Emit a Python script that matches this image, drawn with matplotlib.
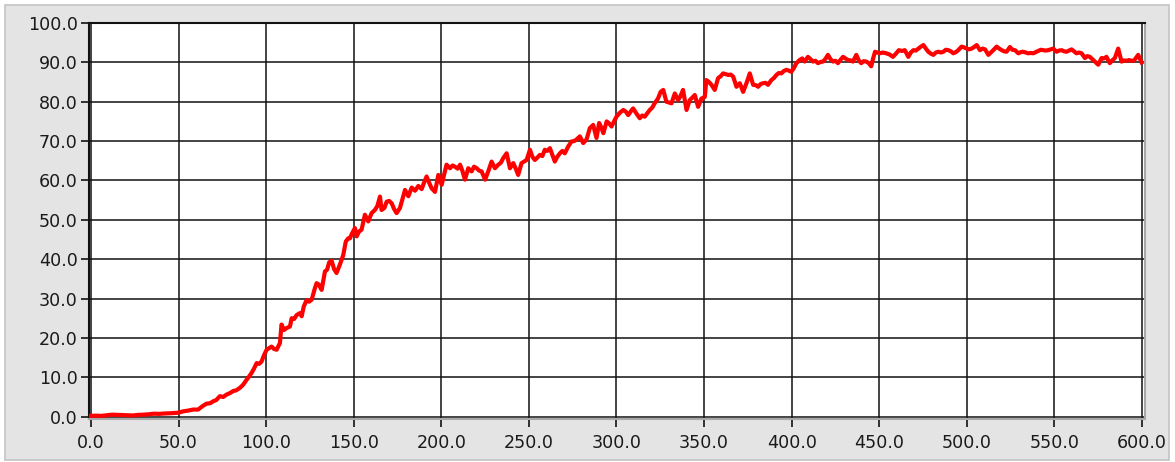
import matplotlib
matplotlib.use("Agg")
import matplotlib.pyplot as plt
from matplotlib.patches import Rectangle

# samples (time, value)
x_vals = [
    0, 3, 6, 9, 12, 15, 18, 21, 24, 27, 30, 33, 36, 39, 42, 45, 48, 50,
    52.7, 55, 58.4, 61.2, 63.5, 66, 68, 69.8, 71.5, 73.6, 75.5, 77.4, 79.4, 81.2, 83, 85, 86.9, 88.9,
    90.3, 91.7, 93.2, 94.6, 96, 97.4, 98.8, 100.3,
    101.7, 103.1, 104.5, 106, 107.9, 108.8, 110.2, 111.7, 113.6, 114.6, 116, 117.4, 119.3, 120.3,
    121.5, 123.1, 124.5, 126, 127.9, 128.8, 130, 131.7, 133.6, 134.8, 136, 137.4, 138.8, 140.2,
    142, 144, 145.5, 146.9, 147.9, 149, 150.7,
    151.7, 153, 154.5, 156.4, 158.3, 160.2, 162.1, 163.5, 165, 165.9, 167.5, 168.8, 170.2, 171.7,
    173, 174.5, 176.4, 178, 179.3, 181.2, 183.1, 185, 186.9, 188.8, 190.2, 191.6, 193, 194.5,
    196.4, 198.3, 200.2,
    201.6, 203, 205, 206.4, 207.8, 209.3, 210.7, 212, 213.5, 215.4, 217.3, 218.7, 220.2, 221.6,
    223, 225, 226.8, 228.7, 230.6, 232.5, 234, 235.4, 237.3, 239.2, 241.1, 242.5, 243.9, 245.8,
    247.2, 248.7, 250.6,
    252, 253.4, 254.8, 256.3, 257.7, 259.1, 260.5, 262, 263.4, 264.8, 266.2, 267.7, 269.1, 270.5,
    272.4, 274.3, 275.8, 277.2, 279.1, 281, 282.9, 284.8, 286.7, 288.6, 290.1, 291.3, 292.5,
    294.4, 295.8, 297.2, 298.6, 300,
    301.9, 303.9, 305.3, 306.7, 308.1, 309.5, 311.4, 313.3, 314.7, 316.1, 317.5, 319, 320.4,
    321.8, 323.7, 325.2, 326.7, 328.5, 330, 331.4, 333.3, 335.2, 336.6, 338, 340, 341.8, 343.2,
    344.7, 346.6, 348.5, 350.4,
    351.3, 352.8, 354.2, 356.1, 358, 359.5, 360.9, 362.3, 363.8, 365.2, 366.6, 368.5, 370.4,
    372.3, 374.2, 376.1, 378, 379.5, 380.9, 382.3, 383.7, 385.1, 386.5, 388.4, 389.8, 391.3,
    392.7, 394.1, 395.5, 397, 398.4, 399.8,
    401.2, 402.7, 404.6, 406, 407.4, 409.3, 410.8, 412.2, 413.6, 415, 416.5, 417.9, 419.3, 420.7,
    422.2, 423.6, 425, 426.4, 427.8, 429.3, 430.7, 432.1, 433.5, 435, 436.9, 438.3, 439.7, 441.1,
    442.6, 444, 445.4, 446.5, 447.6, 448.9, 450.2,
    452.1, 454, 455.9, 457.8, 459.5, 461.2, 462.9, 464.6, 466.6, 468, 469.5, 470.9, 472.3, 473.8,
    475.2, 476.6, 478, 479.5, 480.9, 482.3, 483.7, 485.2, 486.6, 488, 489.4, 490.9, 492.3, 493.7,
    495.1, 497, 498.5, 499.9,
    501.3, 502.7, 504.2, 505.6, 507.5, 509, 510.4, 512.3, 513.7, 515.1, 517, 518.5, 519.9, 521.3,
    522.7, 524.6, 526, 527.5, 529.4, 530.8, 532.2, 533.6, 535.1, 536.5, 537.9, 539.3, 540.8,
    542.2, 543.6, 545, 546.5, 547.9, 549.3,
    551.2, 552.6, 554.1, 555.5, 556.9, 558.3, 559.8, 561.2, 562.6, 564, 565.5, 567.4, 568.8,
    570.2, 572.1, 573.5, 575, 576.9, 578.3, 579.7, 581.6, 583, 584.5, 586.4, 588.3, 589.7, 591.1,
    592.5, 594, 595.5, 597.8, 599.7,
]
y_vals = [
    0.2, 0.25, 0.2, 0.35, 0.5, 0.45, 0.4, 0.35, 0.3, 0.45, 0.5, 0.6, 0.75, 0.7, 0.8, 0.85, 0.95, 1.0,
    1.35, 1.5, 1.8, 1.8, 2.6, 3.3, 3.4, 3.9, 4.2, 5.2, 5.0, 5.6, 6.0, 6.5, 6.7, 7.3, 8.1, 9.4,
    10.2, 11.1, 12.3, 13.6, 13.4, 14.0, 15.6, 17.0,
    17.4, 17.8, 17.2, 17.0, 18.7, 23.4, 22.0, 22.5, 22.9, 25.0, 24.8, 25.8, 26.3, 25.5,
    28.0, 29.6, 29.2, 29.7, 32.7, 33.9, 33.6, 32.2, 36.9, 37.3, 39.2, 39.6, 37.5, 36.5,
    38.5, 41.0, 44.5, 45.3, 45.3, 46.5, 47.9,
    45.8, 47.0, 47.5, 51.3, 49.6, 51.7, 52.5, 53.5, 55.9, 52.5, 53.0, 54.6, 54.8, 54.2,
    52.8, 51.7, 53.0, 55.5, 57.6, 56.0, 58.2, 57.4, 58.6, 57.8, 59.5, 61.0, 59.5, 58.0,
    57.1, 61.4, 58.9,
    61.5, 64.0, 63.1, 63.8, 63.5, 63.0, 64.0, 62.5, 60.2, 63.1, 62.3, 63.5, 63.1, 62.5,
    62.3, 60.2, 62.3, 64.8, 63.1, 64.0, 64.5, 65.7, 66.9, 63.1, 64.4, 63.0, 61.4, 64.4,
    64.8, 65.2, 67.8,
    66.0, 65.2, 65.8, 66.5, 66.2, 67.8, 67.5, 68.2, 66.5, 64.8, 66.0, 66.9, 67.5, 66.9,
    68.6, 69.9, 70.0, 70.4, 71.2, 69.5, 70.4, 73.3, 74.1, 70.8, 74.6, 73.5, 72.0,
    75.0, 74.5, 73.7, 75.0, 76.2,
    77.2, 77.9, 77.5, 76.6, 77.5, 78.3, 77.0, 75.8, 76.5, 76.2, 77.0, 77.9, 78.5,
    79.6, 80.8, 82.5, 83.0, 80.0, 79.8, 79.6, 82.1, 80.4, 81.5, 83.0, 77.9, 80.4, 81.0,
    81.7, 78.7, 80.8, 81.2,
    85.5, 85.0, 84.3, 83.0, 86.0, 86.5, 87.2, 87.0, 86.8, 86.9, 86.4, 83.8, 84.7,
    82.5, 84.7, 87.2, 84.3, 84.2, 83.8, 84.5, 84.7, 84.8, 84.3, 85.5, 86.0, 86.8,
    87.3, 87.2, 87.8, 88.1, 87.9, 87.6,
    88.5, 89.8, 90.6, 91.0, 90.2, 91.4, 90.8, 90.2, 90.4, 89.8, 90.1, 90.2, 90.9, 91.9,
    90.8, 90.2, 90.4, 89.8, 90.6, 91.4, 91.0, 90.6, 90.5, 90.2, 91.9, 90.5, 89.8, 90.3,
    90.2, 89.8, 89.0, 91.0, 92.7, 92.5, 92.3,
    92.5, 92.3, 92.0, 91.4, 92.2, 93.1, 92.9, 93.1, 91.4, 92.5, 93.1, 93.0, 93.5, 94.0,
    94.4, 93.5, 92.7, 92.2, 91.9, 92.5, 92.7, 92.5, 92.7, 93.2, 93.1, 92.8, 92.3, 92.6,
    93.1, 94.0, 93.8, 93.5,
    93.3, 93.5, 93.9, 94.4, 93.1, 93.5, 93.3, 91.9, 92.5, 93.1, 94.0, 93.5, 93.1, 92.8,
    92.7, 93.9, 93.2, 93.1, 92.3, 92.6, 92.7, 92.5, 92.3, 92.4, 92.3, 92.6, 92.9,
    93.2, 93.1, 93.0, 93.1, 93.3, 93.5,
    92.7, 93.0, 93.1, 92.8, 92.7, 93.0, 93.3, 92.8, 92.3, 92.5, 92.3, 91.1, 91.6,
    91.4, 90.6, 90.0, 89.4, 91.1, 91.0, 91.4, 89.8, 90.5, 91.1, 93.5, 90.2, 90.5, 90.4,
    90.6, 90.4, 90.5, 91.9, 90.0,
]

x_ticks = [0, 50, 100, 150, 200, 250, 300, 350, 400, 450, 500, 550, 600]
y_ticks = [0, 10, 20, 30, 40, 50, 60, 70, 80, 90, 100]

W, H = 1175, 462
fig = plt.figure(figsize=(W / 100, H / 100), dpi=100)
fig.patch.set_facecolor("white")

# grey panel behind the graph
panel = Rectangle((5 / W, 2 / H), 1164 / W, 455 / H, transform=fig.transFigure,
                  facecolor="#e4e4e4", edgecolor="#c4c4c4", linewidth=1.2, zorder=-10)
fig.add_artist(panel)

ax = fig.add_axes([89 / W, 1 - 419 / H, 1056 / W, 396 / H])
ax.set_zorder(5)
ax.set_facecolor("white")

ax.plot(x_vals, y_vals, color="#ff0000", linewidth=3.0, solid_joinstyle="round", zorder=3)

ax.set_xlim(-1.1, 601.7)
ax.set_ylim(-0.6, 100)
ax.set_xticks(x_ticks)
ax.set_yticks(y_ticks)
ax.set_xticklabels([f"{v:.1f}" for v in x_ticks])
ax.set_yticklabels([f"{v:.1f}" for v in y_ticks])

ax.grid(True, color="#111111", linewidth=1.1)
ax.set_axisbelow(True)

ax.tick_params(axis="both", direction="out", length=6, width=1.3, color="#222222",
               labelsize=12.6, labelcolor="#1a1a1a")
ax.tick_params(axis="y", pad=2)
ax.tick_params(axis="x", pad=5)

for side in ("left", "top"):
    ax.spines[side].set_color("#111111")
    ax.spines[side].set_linewidth(1.5)
for side in ("right", "bottom"):
    ax.spines[side].set_color("#a8a8a8")
    ax.spines[side].set_linewidth(1.5)

fig.savefig("out.png", dpi=100, facecolor=fig.get_facecolor())
